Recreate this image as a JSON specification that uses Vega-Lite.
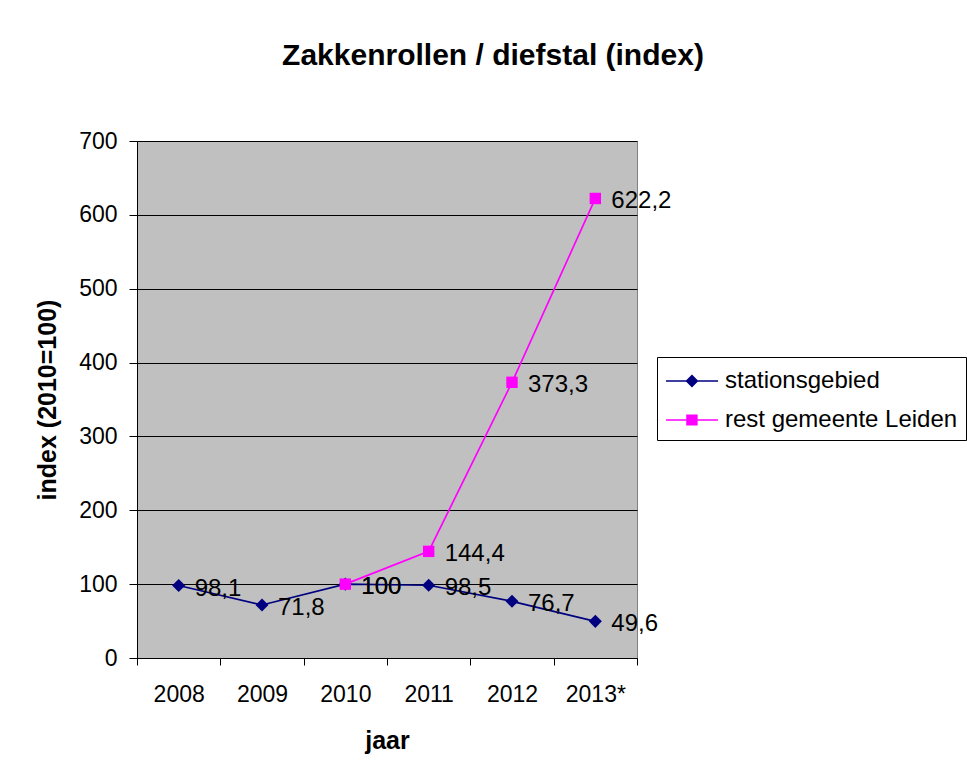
{
  "$schema": "https://vega.github.io/schema/vega-lite/v6.json",
  "width": 500,
  "height": 517,
  "autosize": "none",
  "padding": {"left": 137, "top": 141, "right": 330, "bottom": 113},
  "background": "white",
  "title": {
    "text": "Zakkenrollen / diefstal (index)",
    "font": "Liberation Sans",
    "fontSize": 30,
    "fontWeight": "bold",
    "color": "black",
    "anchor": "middle",
    "frame": "group",
    "dx": 106,
    "offset": 59
  },
  "data": {
    "values": [
      {"jaar": "2008", "reeks": "stationsgebied", "index": 98.1, "label": "98,1"},
      {"jaar": "2009", "reeks": "stationsgebied", "index": 71.8, "label": "71,8"},
      {"jaar": "2010", "reeks": "stationsgebied", "index": 100, "label": "100"},
      {"jaar": "2011", "reeks": "stationsgebied", "index": 98.5, "label": "98,5"},
      {"jaar": "2012", "reeks": "stationsgebied", "index": 76.7, "label": "76,7"},
      {"jaar": "2013*", "reeks": "stationsgebied", "index": 49.6, "label": "49,6"},
      {"jaar": "2010", "reeks": "rest gemeente Leiden", "index": 100, "label": "100"},
      {"jaar": "2011", "reeks": "rest gemeente Leiden", "index": 144.4, "label": "144,4"},
      {"jaar": "2012", "reeks": "rest gemeente Leiden", "index": 373.3, "label": "373,3"},
      {"jaar": "2013*", "reeks": "rest gemeente Leiden", "index": 622.2, "label": "622,2"}
    ]
  },
  "encoding": {
    "x": {
      "field": "jaar",
      "type": "ordinal",
      "bandPosition": 0.5,
      "sort": ["2008", "2009", "2010", "2011", "2012", "2013*"],
      "scale": {"type": "band", "paddingInner": 0, "paddingOuter": 0},
      "axis": {
        "title": "jaar",
        "labelAngle": 0,
        "tickBand": "extent",
        "tickSize": 7,
        "labelPadding": 18,
        "titlePadding": 22,
        "grid": false
      }
    },
    "y": {
      "field": "index",
      "type": "quantitative",
      "scale": {"domain": [0, 700], "nice": false, "zero": true},
      "axis": {
        "title": "index (2010=100)",
        "values": [0, 100, 200, 300, 400, 500, 600, 700],
        "grid": true,
        "tickSize": 8,
        "labelPadding": 12,
        "titlePadding": 18
      }
    }
  },
  "layer": [
    {
      "mark": {"type": "line", "strokeWidth": 1.7},
      "encoding": {
        "color": {
          "field": "reeks",
          "type": "nominal",
          "scale": {"domain": ["stationsgebied", "rest gemeente Leiden"], "range": ["#000080", "#FF00FF"]},
          "legend": {
            "title": null,
            "orient": "none",
            "legendX": 520,
            "legendY": 216,
            "padding": 8,
            "strokeColor": "black",
            "fillColor": "white",
            "labelFont": "Liberation Sans",
            "labelFontSize": 24,
            "labelColor": "black",
            "labelOffset": 28,
            "labelLimit": 400,
            "rowPadding": 11,
            "symbolSize": 900,
            "encode": {
              "symbols": {
                "update": {
                  "shape": {"signal": "datum.value === 'stationsgebied' ? 'M-1,0H2.47M0.73,-0.36L1.09,0L0.73,0.36L0.37,0Z' : 'M-1,0H2.47M0.4,-0.32H1.06V0.32H0.4Z'"},
                  "fill": {"signal": "datum.value === 'stationsgebied' ? '#000080' : '#FF00FF'"},
                  "stroke": {"signal": "datum.value === 'stationsgebied' ? '#000080' : '#FF00FF'"},
                  "strokeWidth": {"value": 1.5},
                  "opacity": {"value": 1},
                  "fillOpacity": {"value": 1}
                }
              }
            }
          }
        }
      }
    },
    {
      "transform": [{"filter": "datum.reeks === 'stationsgebied'"}],
      "mark": {"type": "point", "filled": true, "opacity": 1, "size": 170, "shape": "diamond"},
      "encoding": {
        "color": {"field": "reeks", "type": "nominal", "legend": null}
      }
    },
    {
      "transform": [{"filter": "datum.reeks === 'rest gemeente Leiden'"}],
      "mark": {"type": "point", "filled": true, "opacity": 1, "size": 130, "shape": "square"},
      "encoding": {
        "color": {"field": "reeks", "type": "nominal", "legend": null}
      }
    },
    {
      "mark": {"type": "text", "align": "left", "baseline": "middle", "dx": 16, "dy": 3, "font": "Liberation Sans", "fontSize": 24, "color": "black"},
      "encoding": {
        "text": {"field": "label"}
      }
    }
  ],
  "config": {
    "font": "Liberation Sans",
    "view": {"fill": "#C0C0C0", "stroke": "#808080", "strokeWidth": 1},
    "axis": {
      "labelFont": "Liberation Sans",
      "labelFontSize": 23,
      "labelColor": "black",
      "titleFont": "Liberation Sans",
      "titleFontSize": 25,
      "titleFontWeight": "bold",
      "titleColor": "black",
      "domainColor": "black",
      "domainWidth": 1,
      "tickColor": "black",
      "tickWidth": 1,
      "gridColor": "black",
      "gridWidth": 1,
      "gridOpacity": 1
    }
  }
}
